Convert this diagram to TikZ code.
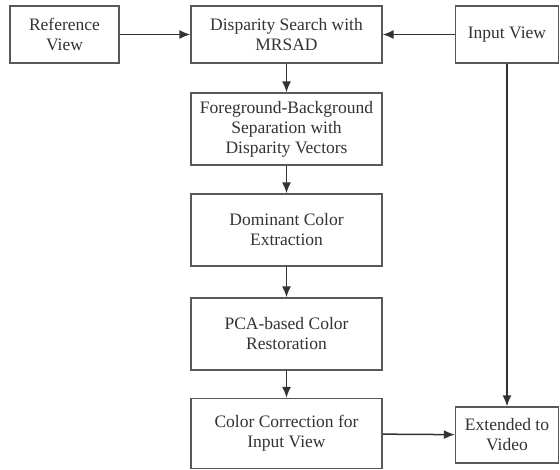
\documentclass[tikz,border=0pt]{standalone}
\usepackage{fontspec}
\setmainfont{Liberation Serif}
\usetikzlibrary{arrows.meta}
\begin{document}
\begin{tikzpicture}[x=1pt,y=-1pt,
  box/.style={draw=black!65, line width=1.3pt, fill=white, align=center, inner sep=0pt,
    font=\fontsize{17.5}{20}\selectfont, text=black!80},
  conn/.style={draw=black!80, line width=1.5pt, -{Latex[length=11pt,width=9pt]}}]
\useasboundingbox (0,0) rectangle (560,470);
% boxes: centre and size from corners
\node[box, minimum width=109pt, minimum height=57pt] (ref) at (64.5,34.5) {Reference\\View};
\node[box, minimum width=191pt, minimum height=57pt] (disp) at (286.5,34.5) {Disparity Search with\\MRSAD};
\node[box, minimum width=103pt, minimum height=57pt] (inp) at (507,34.5) {Input View};
\node[box, minimum width=191pt, minimum height=72pt] (fg) at (286.5,129) {Foreground-Background\\Separation with\\Disparity Vectors};
\node[box, minimum width=191pt, minimum height=72pt] (dom) at (286.5,230) {Dominant Color\\Extraction};
\node[box, minimum width=191pt, minimum height=72pt] (pca) at (286.5,334) {PCA-based Color\\Restoration};
\node[box, minimum width=191pt, minimum height=70pt] (cc) at (286.5,433.5) {Color Correction for\\Input View};
\node[box, minimum width=103pt, minimum height=56pt] (ext) at (507,435) {Extended to\\Video};
% connectors
\draw[conn] (ref) -- (disp);
\draw[conn] (inp) -- (disp);
\draw[conn] (disp) -- (fg);
\draw[conn] (fg) -- (dom);
\draw[conn] (dom) -- (pca);
\draw[conn] (pca) -- (cc);
\draw[conn] (cc) -- (ext);
\draw[conn] (inp.south) -- (ext.north);
\end{tikzpicture}
\end{document}
